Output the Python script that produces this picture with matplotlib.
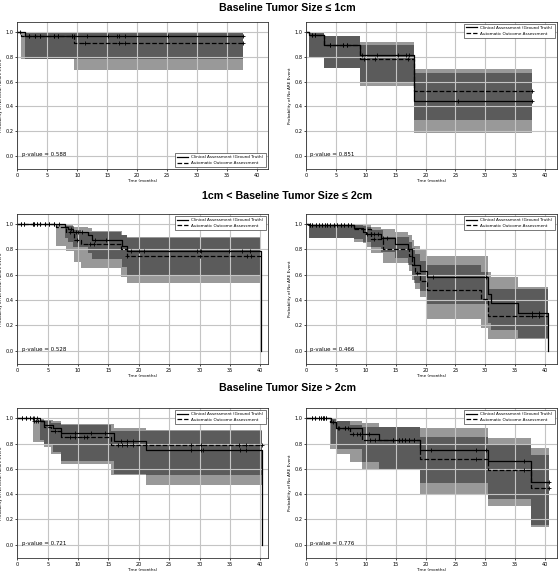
import numpy as np
import matplotlib
matplotlib.use("Agg")
import matplotlib.pyplot as plt

# ---- panel A: local failure, size <= 1cm ----
a_clin_t = [0, 1.3, 37.6]
a_clin_s = [1.0, 0.965, 0.965]
a_clin_lo = [1.0, 0.78, 0.78]
a_clin_hi = [1.0, 0.995, 0.995]
a_clin_c = [0.5, 2.0, 2.9, 3.8, 6.1, 6.8, 9.1, 9.4, 11.7, 15.2, 16.7, 17.0, 17.9, 25.2, 37.6]
a_auto_t = [0, 0.6, 9.4, 37.6]
a_auto_s = [1.0, 0.965, 0.91, 0.91]
a_auto_lo = [1.0, 0.78, 0.69, 0.69]
a_auto_hi = [1.0, 0.995, 0.99, 0.99]
a_auto_c = [2.0, 2.9, 3.8, 6.1, 6.8, 9.1, 11.3, 17.0, 17.9, 37.6]

# ---- panel B: ARE, size <= 1cm ----
b_clin_t = [0, 0.5, 2.9, 9.06, 18.1, 37.8]
b_clin_s = [1.0, 0.97, 0.895, 0.81, 0.44, 0.44]
b_clin_lo = [1.0, 0.79, 0.705, 0.595, 0.19, 0.19]
b_clin_hi = [1.0, 1.0, 0.965, 0.92, 0.665, 0.665]
b_clin_c = [1.0, 1.4, 3.9, 6.2, 6.8, 9.4, 11.8, 15.3, 16.8, 17.2, 25.4, 37.8]
b_auto_t = [0, 0.5, 2.9, 9.06, 18.1, 37.8]
b_auto_s = [1.0, 0.97, 0.895, 0.78, 0.52, 0.52]
b_auto_lo = [1.0, 0.79, 0.705, 0.566, 0.293, 0.293]
b_auto_hi = [1.0, 1.0, 0.965, 0.89, 0.70, 0.70]
b_auto_c = [1.0, 1.4, 3.9, 6.2, 6.8, 9.6, 11.6, 17.1, 37.8]

# ---- panel C: local failure, 1cm < size <= 2cm ----
c_clin_t = [0, 7.8, 8.4, 9.2, 11.6, 12.3, 17.2, 18.0, 40.1]
c_clin_s = [1.0, 0.98, 0.96, 0.94, 0.91, 0.875, 0.83, 0.79, 0.0]
c_clin_lo = [1.0, 0.89, 0.86, 0.82, 0.77, 0.72, 0.66, 0.60, 0.60]
c_clin_hi = [1.0, 0.995, 0.99, 0.98, 0.965, 0.945, 0.915, 0.895, 0.895]
c_clin_c = [0.6, 1.1, 2.5, 2.7, 3.2, 3.7, 4.6, 5.2, 6.0, 6.8, 8.8, 9.6, 10.0, 10.6,
            12.8, 14.6, 18.7, 20.0, 20.9, 29.6, 30.0, 30.3, 34.8, 37.0, 38.3]
c_auto_t = [0, 6.3, 8.0, 9.4, 10.4, 17.0, 18.0, 40.1]
c_auto_s = [1.0, 0.975, 0.94, 0.875, 0.845, 0.80, 0.75, 0.75]
c_auto_lo = [1.0, 0.825, 0.79, 0.70, 0.655, 0.585, 0.535, 0.535]
c_auto_hi = [1.0, 0.995, 0.985, 0.955, 0.935, 0.91, 0.89, 0.89]
c_auto_c = [0.6, 1.1, 2.5, 2.7, 3.2, 3.7, 4.6, 5.2, 6.0, 8.7, 9.8, 12.0, 12.6,
            18.1, 30.1, 37.8, 38.5]

# ---- panel D: ARE, 1cm < size <= 2cm ----
d_clin_t = [0, 0.5, 8.0, 9.5, 10.0, 12.5, 14.9, 17.0, 17.8, 18.0, 19.0, 20.3,
            30.4, 31.0, 35.5, 40.6]
d_clin_s = [1.0, 0.99, 0.965, 0.94, 0.92, 0.89, 0.845, 0.805, 0.74, 0.68, 0.63,
            0.585, 0.45, 0.375, 0.30, 0.0]
d_clin_lo = [1.0, 0.89, 0.88, 0.85, 0.82, 0.78, 0.73, 0.68, 0.60, 0.53, 0.47,
             0.37, 0.22, 0.16, 0.10, 0.10]
d_clin_hi = [1.0, 1.0, 0.995, 0.985, 0.975, 0.96, 0.935, 0.91, 0.87, 0.83, 0.80,
             0.745, 0.62, 0.585, 0.50, 0.50]
d_clin_c = [0.7, 1.0, 1.7, 2.2, 2.6, 3.1, 3.5, 4.0, 4.6, 5.2, 5.8, 6.4, 7.0, 7.5,
            10.2, 10.8, 11.3, 12.0, 12.8, 13.6, 21.3, 30.2, 37.8, 39.0]
d_auto_t = [0, 0.5, 8.0, 10.9, 12.8, 17.2, 17.8, 18.3, 19.0, 20.3, 29.3, 30.4, 40.6]
d_auto_s = [1.0, 0.99, 0.96, 0.88, 0.80, 0.745, 0.68, 0.615, 0.55, 0.48, 0.41,
            0.275, 0.275]
d_auto_lo = [1.0, 0.89, 0.86, 0.77, 0.69, 0.63, 0.56, 0.49, 0.42, 0.25, 0.18,
             0.09, 0.09]
d_auto_hi = [1.0, 1.0, 0.99, 0.95, 0.895, 0.86, 0.81, 0.76, 0.71, 0.68, 0.62,
             0.49, 0.49]
d_auto_c = [0.7, 1.0, 1.7, 2.2, 2.6, 3.1, 3.5, 4.0, 4.6, 5.2, 5.8, 6.4, 7.0, 7.5,
            11.3, 18.6, 37.8, 39.0]

# ---- panel E: local failure, size > 2cm ----
e_clin_t = [0, 3.8, 4.4, 5.8, 7.2, 15.9, 21.1, 40.3]
e_clin_s = [1.0, 0.975, 0.95, 0.92, 0.88, 0.82, 0.745, 0.0]
e_clin_lo = [1.0, 0.83, 0.80, 0.73, 0.66, 0.56, 0.47, 0.47]
e_clin_hi = [1.0, 0.995, 0.99, 0.975, 0.955, 0.92, 0.91, 0.91]
e_clin_c = [0.8, 1.5, 2.1, 2.5, 2.7, 3.2, 9.5, 12.2, 14.5, 17.0, 18.1, 19.0,
            28.5, 30.2, 30.5, 36.6, 37.7]
e_auto_t = [0, 2.5, 4.4, 5.5, 7.2, 15.4, 40.3]
e_auto_s = [1.0, 0.975, 0.93, 0.90, 0.85, 0.79, 0.79]
e_auto_lo = [1.0, 0.81, 0.77, 0.72, 0.64, 0.555, 0.555]
e_auto_hi = [1.0, 0.985, 0.975, 0.965, 0.945, 0.90, 0.90]
e_auto_c = [0.8, 1.5, 2.1, 2.8, 3.1, 3.4, 6.2, 8.7, 9.5, 11.0, 11.5, 16.5, 17.3,
            18.0, 19.0, 28.5, 30.2, 36.5, 37.7, 40.3]

# ---- panel F: ARE, size > 2cm ----
f_clin_t = [0, 4.2, 4.9, 9.4, 12.2, 19.0, 30.4, 37.7, 40.8]
f_clin_s = [1.0, 0.97, 0.92, 0.875, 0.825, 0.75, 0.66, 0.495, 0.495]
f_clin_lo = [1.0, 0.80, 0.76, 0.655, 0.595, 0.49, 0.36, 0.155, 0.155]
f_clin_hi = [1.0, 1.0, 0.98, 0.965, 0.93, 0.92, 0.845, 0.765, 0.765]
f_clin_c = [1.0, 1.5, 2.2, 2.5, 2.8, 3.0, 3.3, 5.5, 6.5, 7.0, 10.5, 14.5, 15.5,
            16.0, 16.6, 17.2, 18.0, 21.0, 28.4, 30.2, 36.5, 40.8]
f_auto_t = [0, 4.0, 4.9, 7.4, 9.4, 19.0, 30.4, 37.7, 40.8]
f_auto_s = [1.0, 0.97, 0.92, 0.875, 0.825, 0.675, 0.59, 0.445, 0.445]
f_auto_lo = [1.0, 0.76, 0.72, 0.655, 0.595, 0.395, 0.305, 0.14, 0.14]
f_auto_hi = [1.0, 0.995, 0.975, 0.95, 0.93, 0.85, 0.80, 0.71, 0.71]
f_auto_c = [1.0, 1.5, 2.2, 2.5, 2.8, 3.0, 3.3, 4.5, 5.3, 6.5, 7.8, 8.5, 9.0,
            10.7, 11.5, 14.5, 15.5, 16.0, 16.6, 17.2, 18.0, 28.4, 36.5, 40.8]

p_values = ["0.588", "0.851", "0.528", "0.466", "0.721", "0.776"]
row_titles = ["Baseline Tumor Size \u2264 1cm",
              "1cm < Baseline Tumor Size \u2264 2cm",
              "Baseline Tumor Size > 2cm"]
ylabel_lf = "Probability of No Local Failure Event"
ylabel_are = "Probability of No ARE Event"
lab_clin = "Clinical Assessment (Ground Truth)"
lab_auto = "Automatic Outcome Assessment"


def km(ax, t, s, lo, hi, cens, ls, label):
    t = np.array(t, float)
    s = np.array(s, float)
    ax.fill_between(t, lo, hi, step="post", color="k", alpha=0.4, lw=0)
    ax.step(t, s, where="post", color="k", ls=ls, lw=0.9, label=label)
    idx = np.searchsorted(t, cens, side="right") - 1
    ax.plot(cens, s[idx], ls="none", marker="+", color="k", ms=3.3, mew=0.6)


fig = plt.figure(figsize=(5.6, 5.72), dpi=100)

panels = [
    (a_clin_t, a_clin_s, a_clin_lo, a_clin_hi, a_clin_c, a_auto_t, a_auto_s, a_auto_lo, a_auto_hi, a_auto_c),
    (b_clin_t, b_clin_s, b_clin_lo, b_clin_hi, b_clin_c, b_auto_t, b_auto_s, b_auto_lo, b_auto_hi, b_auto_c),
    (c_clin_t, c_clin_s, c_clin_lo, c_clin_hi, c_clin_c, c_auto_t, c_auto_s, c_auto_lo, c_auto_hi, c_auto_c),
    (d_clin_t, d_clin_s, d_clin_lo, d_clin_hi, d_clin_c, d_auto_t, d_auto_s, d_auto_lo, d_auto_hi, d_auto_c),
    (e_clin_t, e_clin_s, e_clin_lo, e_clin_hi, e_clin_c, e_auto_t, e_auto_s, e_auto_lo, e_auto_hi, e_auto_c),
    (f_clin_t, f_clin_s, f_clin_lo, f_clin_hi, f_clin_c, f_auto_t, f_auto_s, f_auto_lo, f_auto_hi, f_auto_c),
]
lefts = [0.031, 0.547]
widths = [0.447, 0.447]
bottoms = [0.704, 0.364, 0.0245]
heights = [0.258, 0.262, 0.262]
xmax = [41.8, 42.0, 41.2, 42.0, 41.2, 42.0]
title_y = [0.986, 0.657, 0.322]

for i, p in enumerate(panels):
    r, c = divmod(i, 2)
    ax = fig.add_axes([lefts[c], bottoms[r], widths[c], heights[r]])
    km(ax, *p[:5], "-", lab_clin)
    km(ax, *p[5:], "--", lab_auto)
    ax.set_xlim(0, xmax[i])
    ax.set_ylim(-0.105, 1.08)
    ax.set_xticks(np.arange(0, 41, 5))
    ax.set_yticks(np.arange(0, 1.01, 0.2))
    ax.grid(True, color="#c4c4c4", lw=0.8)
    ax.tick_params(labelsize=3.6, length=1.5, width=0.5, pad=1.2)
    for sp in ax.spines.values():
        sp.set_linewidth(0.6)
        sp.set_color("#333333")
    ax.set_xlabel("Time (months)", fontsize=3.0, labelpad=1)
    ax.set_ylabel(ylabel_lf if c == 0 else ylabel_are, fontsize=3.0, labelpad=1.5)
    ax.text(0.7, 0.01, "p-value = " + p_values[i], fontsize=4.0, va="center")
    leg = ax.legend(loc="lower right" if i == 0 else "upper right", fontsize=3.0,
                    handlelength=2.6, fancybox=False, framealpha=1,
                    edgecolor="#444444", borderpad=0.5, labelspacing=0.4)
    leg.get_frame().set_linewidth(0.5)

for r in range(3):
    fig.text(0.513, title_y[r], row_titles[r], ha="center", va="center",
             fontsize=7.7, fontweight="bold",
             family=["Liberation Sans", "DejaVu Sans"])

fig.savefig("out.png", dpi=100)
